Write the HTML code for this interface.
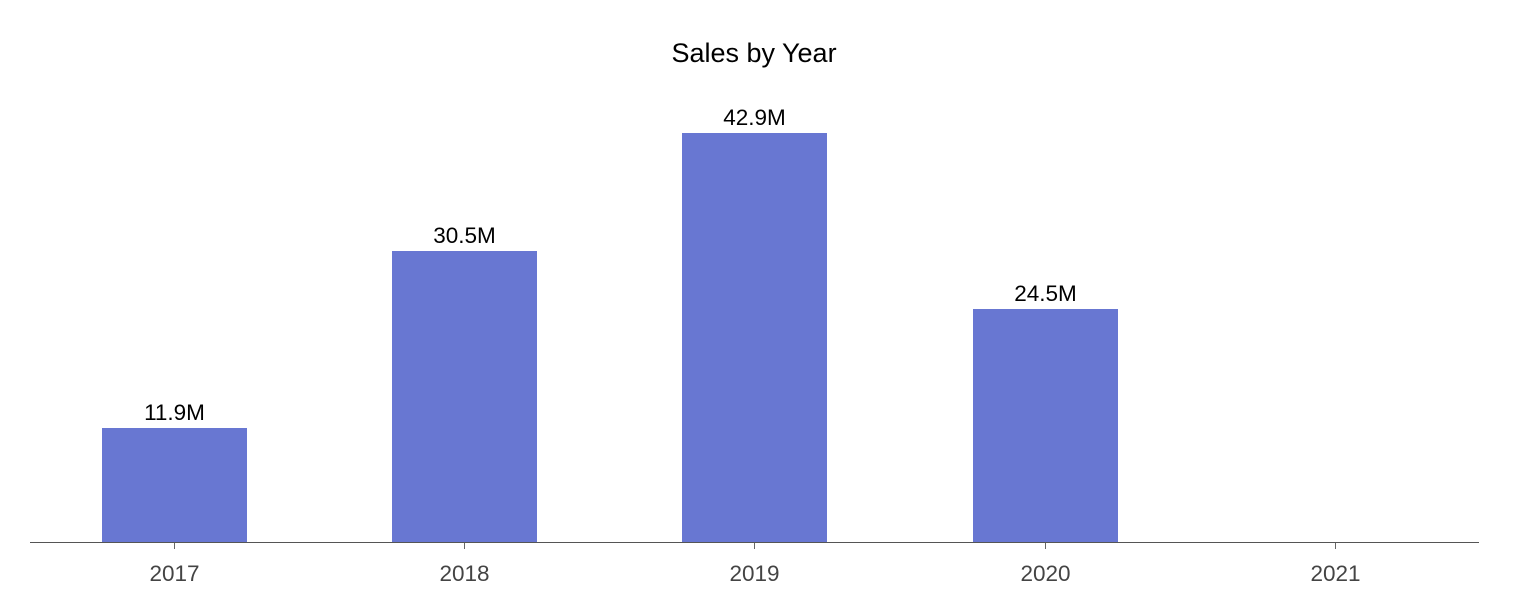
<!DOCTYPE html>
<html><head><style>body{margin:0;background:#fff}svg{display:block}</style></head><body>
<svg width="1521" height="598" xmlns="http://www.w3.org/2000/svg" font-family="Liberation Sans, Arial, sans-serif">
<rect width="1521" height="598" fill="#fff"/>
<text x="754" y="62" font-size="27" text-anchor="middle" fill="#000">Sales by Year</text>
<g fill="#6877d2">
<rect x="102" y="428" width="145" height="114"/>
<rect x="392" y="251" width="145" height="291"/>
<rect x="682" y="133" width="145" height="409"/>
<rect x="973" y="309" width="145" height="233"/>
</g>
<g font-size="22.5" text-anchor="middle" fill="#000">
<text x="174.5" y="420">11.9M</text>
<text x="464.5" y="243">30.5M</text>
<text x="754.5" y="125">42.9M</text>
<text x="1045.5" y="301">24.5M</text>
</g>
<line x1="30" y1="542.5" x2="1479" y2="542.5" stroke="#555" stroke-width="1"/>
<g stroke="#666" stroke-width="1">
<line x1="174.5" y1="543" x2="174.5" y2="549"/>
<line x1="464.5" y1="543" x2="464.5" y2="549"/>
<line x1="754.5" y1="543" x2="754.5" y2="549"/>
<line x1="1045.5" y1="543" x2="1045.5" y2="549"/>
<line x1="1335.5" y1="543" x2="1335.5" y2="549"/>
</g>
<g font-size="22.5" text-anchor="middle" fill="#444">
<text x="174.5" y="581">2017</text>
<text x="464.5" y="581">2018</text>
<text x="754.5" y="581">2019</text>
<text x="1045.5" y="581">2020</text>
<text x="1335.5" y="581">2021</text>
</g>
</svg>
</body></html>
